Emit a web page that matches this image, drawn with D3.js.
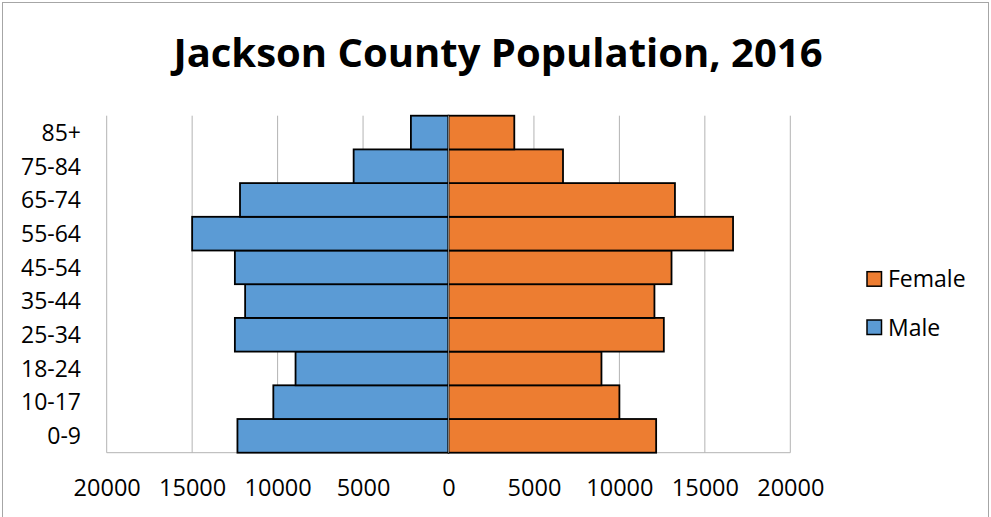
<!DOCTYPE html>
<html>
<head>
<meta charset="utf-8">
<script src="https://cdn.jsdelivr.net/npm/d3@7"></script>
<style>
  html, body { margin: 0; padding: 0; background: #fff; }
  svg { display: block; font-family: "Open Sans", "Noto Sans", sans-serif; }
</style>
</head>
<body>
<svg id="chart" width="991" height="517"></svg>
<script>
// ---- data ----
const categories = ["0-9", "10-17", "18-24", "25-34", "35-44", "45-54", "55-64", "65-74", "75-84", "85+"];
const maleValues   = [12350, 10250, 8950, 12500, 11900, 12500, 15000, 12200, 5550, 2200];
const femaleValues = [12150, 10000, 8950, 12600, 12050, 13050, 16650, 13250, 6700, 3850];
const xTickValues  = [-20000, -15000, -10000, -5000, 0, 5000, 10000, 15000, 20000];
const seriesNames  = ["Female", "Male"];
const title = "Jackson County Population, 2016";

const colors = { Male: "#5B9BD5", Female: "#ED7D31" };

const svg = d3.select("#chart");

// outer border
svg.append("rect")
  .attr("x", 2.5).attr("y", 2.5)
  .attr("width", 986).attr("height", 530)
  .attr("fill", "none").attr("stroke", "#a6a6a6").attr("stroke-width", 1);

const plot = { left: 106.7, right: 790.3, top: 115.7, bottom: 452.7 };

const x = d3.scaleLinear().domain([-20000, 20000]).range([plot.left, plot.right]);
const y = d3.scaleBand().domain(categories.slice().reverse()).range([plot.top, plot.bottom]).padding(0);

// gridlines
svg.append("g").selectAll("line")
  .data(xTickValues)
  .join("line")
  .attr("x1", d => x(d)).attr("x2", d => x(d))
  .attr("y1", plot.top).attr("y2", plot.bottom)
  .attr("stroke", "#b3b3b3").attr("stroke-width", 1);

// bottom axis line
svg.append("line")
  .attr("x1", plot.left).attr("x2", plot.right)
  .attr("y1", plot.bottom).attr("y2", plot.bottom)
  .attr("stroke", "#b3b3b3").attr("stroke-width", 1);

// bars
const maleData = categories.map((c, i) => ({ cat: c, v: maleValues[i] }));
const femaleData = categories.map((c, i) => ({ cat: c, v: femaleValues[i] }));

svg.append("g").selectAll("rect")
  .data(maleData)
  .join("rect")
  .attr("x", d => x(-d.v))
  .attr("y", d => y(d.cat))
  .attr("width", d => x(0) - x(-d.v))
  .attr("height", y.bandwidth())
  .attr("fill", colors.Male)
  .attr("stroke", "#000").attr("stroke-width", 1.8);

svg.append("g").selectAll("rect")
  .data(femaleData)
  .join("rect")
  .attr("x", x(0))
  .attr("y", d => y(d.cat))
  .attr("width", d => x(d.v) - x(0))
  .attr("height", y.bandwidth())
  .attr("fill", colors.Female)
  .attr("stroke", "#000").attr("stroke-width", 1.8);

// zero axis line
svg.append("line")
  .attr("x1", x(0)).attr("x2", x(0))
  .attr("y1", plot.top).attr("y2", plot.bottom)
  .attr("stroke", "#7f7f7f").attr("stroke-width", 1);

// x axis labels
const xAxis = d3.axisBottom(x)
  .tickValues(xTickValues)
  .tickFormat(d => Math.abs(d))
  .tickSize(0)
  .tickPadding(0);
const gx = svg.append("g")
  .attr("transform", `translate(0, 496)`)
  .call(xAxis);
gx.select(".domain").remove();
gx.selectAll("text")
  .attr("dy", null)
  .attr("y", 0)
  .attr("font-family", "'Open Sans', sans-serif")
  .attr("font-size", 23.5)
  .attr("fill", "#000");

// y axis labels
const yAxis = d3.axisLeft(y).tickSize(0).tickPadding(0);
const gy = svg.append("g")
  .attr("transform", `translate(81, 0)`)
  .call(yAxis);
gy.select(".domain").remove();
gy.selectAll("text")
  .attr("x", 0)
  .attr("dy", "0.36em")
  .attr("font-family", "'Open Sans', sans-serif")
  .attr("font-size", 23)
  .attr("fill", "#000");

// title
svg.append("text")
  .attr("x", 498).attr("y", 67)
  .attr("text-anchor", "middle")
  .attr("font-size", 40)
  .attr("font-weight", "bold")
  .attr("fill", "#000")
  .text(title);

// legend
const legendY = { Female: 271.7, Male: 320 };
const lg = svg.append("g");
seriesNames.forEach(name => {
  lg.append("rect")
    .attr("x", 867).attr("y", legendY[name])
    .attr("width", 14.5).attr("height", 14.5)
    .attr("fill", colors[name])
    .attr("stroke", "#000").attr("stroke-width", 1.5);
  lg.append("text")
    .attr("x", 888).attr("y", legendY[name] + 15.5)
    .attr("font-size", 23)
    .attr("fill", "#000")
    .text(name);
});
</script>
</body>
</html>
